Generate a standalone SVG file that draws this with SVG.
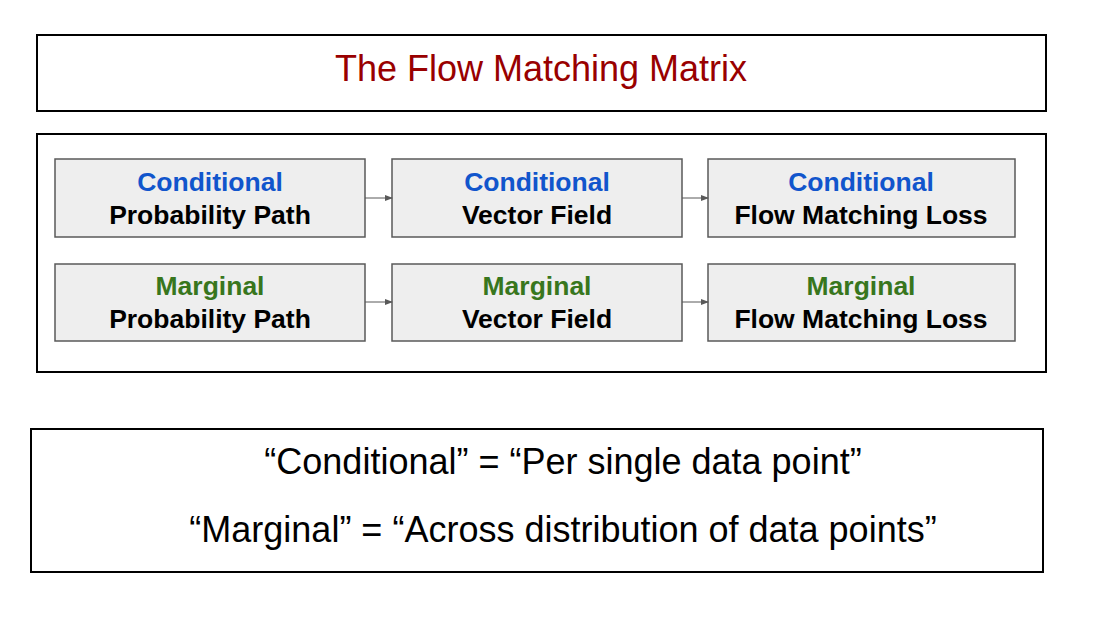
<svg xmlns="http://www.w3.org/2000/svg" width="1100" height="619" viewBox="0 0 1100 619">
<style>
.frame{fill:#fff;stroke:#000;stroke-width:2}
.node{fill:#eeeeee;stroke:#595959;stroke-width:1.5}
.t{font-family:"Liberation Sans",Arial,sans-serif;font-weight:bold;font-size:26.5px;text-anchor:middle}
.c{fill:#1155cc}.m{fill:#38761d}.k{fill:#000}
.big{font-family:"Liberation Sans",Arial,sans-serif;font-size:36px;text-anchor:middle}
.conn{stroke:#595959;stroke-width:1;fill:none;marker-end:url(#ah)}
</style>
<defs><marker id="ah" markerWidth="8" markerHeight="6" refX="7" refY="3" orient="auto" markerUnits="userSpaceOnUse"><path d="M0,0 L8,3 L0,6 Z" fill="#595959"/></marker></defs>
<rect width="1100" height="619" fill="#fff"/>
<g id="title"><rect class="frame" x="37" y="35" width="1009" height="76"/><text class="big" x="541" y="81" fill="#990000">The Flow Matching Matrix</text></g>
<g id="matrix"><rect class="frame" x="37" y="134" width="1009" height="238"/></g>
<g id="n1"><rect class="node" x="55" y="159" width="310" height="78"/><text class="t c" x="210" y="191">Conditional</text><text class="t k" x="210" y="224">Probability Path</text></g>
<g id="n2"><rect class="node" x="392" y="159" width="290" height="78"/><text class="t c" x="537" y="191">Conditional</text><text class="t k" x="537" y="224">Vector Field</text></g>
<g id="n3"><rect class="node" x="708" y="159" width="307" height="78"/><text class="t c" x="861" y="191">Conditional</text><text class="t k" x="861" y="224">Flow Matching Loss</text></g>
<g id="n4"><rect class="node" x="55" y="264" width="310" height="77"/><text class="t m" x="210" y="295">Marginal</text><text class="t k" x="210" y="328">Probability Path</text></g>
<g id="n5"><rect class="node" x="392" y="264" width="290" height="77"/><text class="t m" x="537" y="295">Marginal</text><text class="t k" x="537" y="328">Vector Field</text></g>
<g id="n6"><rect class="node" x="708" y="264" width="307" height="77"/><text class="t m" x="861" y="295">Marginal</text><text class="t k" x="861" y="328">Flow Matching Loss</text></g>
<g id="connectors">
<line class="conn" x1="365" y1="198" x2="392" y2="198"/>
<line class="conn" x1="682" y1="198" x2="708" y2="198"/>
<line class="conn" x1="365" y1="302" x2="392" y2="302"/>
<line class="conn" x1="682" y1="302" x2="708" y2="302"/>
</g>
<g id="legend"><rect class="frame" x="31" y="429" width="1012" height="143"/>
<text class="big" x="563" y="474">“Conditional” = “Per single data point”</text>
<text class="big" x="563" y="542">“Marginal” = “Across distribution of data points”</text></g>
</svg>
